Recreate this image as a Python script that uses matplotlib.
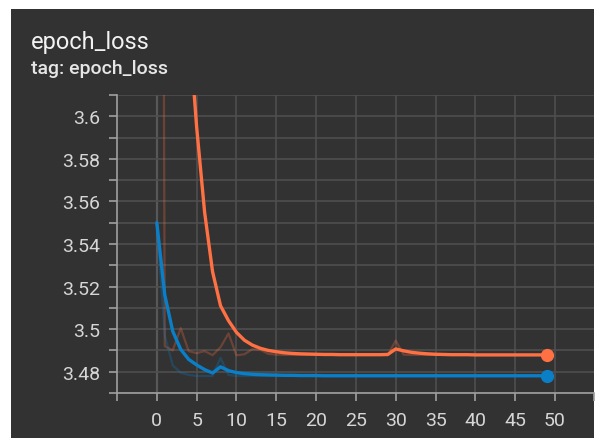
import matplotlib

matplotlib.use("Agg")
import matplotlib.pyplot as plt
import numpy as np
from matplotlib.patches import Rectangle
from matplotlib.ticker import FixedLocator, FuncFormatter, MultipleLocator

plt.rcParams["font.family"] = ["Roboto", "DejaVu Sans"]

# values (TensorBoard scalar card)
steps = list(range(50))

orange_raw = [
    4.600, 3.492, 3.490, 3.5005, 3.4897, 3.4887, 3.4897, 3.4878, 3.4915, 3.4980,
    3.4877, 3.4882, 3.4906, 3.4903, 3.4884, 3.4880, 3.4879, 3.4879, 3.4879, 3.4879,
    3.4879, 3.4879, 3.4879, 3.4879, 3.4879, 3.4879, 3.4879, 3.4879, 3.4879, 3.4878,
    3.4946, 3.4880, 3.4879, 3.4879, 3.4879, 3.4879, 3.4879, 3.4879, 3.4879, 3.4879,
    3.4879, 3.4879, 3.4879, 3.4879, 3.4879, 3.4879, 3.4879, 3.4879, 3.4879, 3.4879,
]
orange_smooth = [
    4.600, 4.000, 3.800, 3.700, 3.645, 3.595, 3.555, 3.527, 3.511, 3.504,
    3.4985, 3.4948, 3.4925, 3.4910, 3.4900, 3.4894, 3.4889, 3.4886, 3.4884, 3.4883,
    3.4882, 3.4881, 3.4881, 3.4880, 3.4880, 3.4880, 3.4880, 3.4880, 3.4880, 3.4881,
    3.4907, 3.4898, 3.4891, 3.4887, 3.4884, 3.4882, 3.4881, 3.4880, 3.4880, 3.4880,
    3.4879, 3.4879, 3.4879, 3.4879, 3.4879, 3.4879, 3.4879, 3.4879, 3.4879, 3.4879,
]
blue_raw = [
    3.5500, 3.4970, 3.4830, 3.4795, 3.4785, 3.4780, 3.4780, 3.4780, 3.4865, 3.4785,
    3.4780, 3.4780, 3.4780, 3.4780, 3.4780, 3.4780, 3.4780, 3.4780, 3.4780, 3.4780,
    3.4780, 3.4780, 3.4780, 3.4780, 3.4780, 3.4780, 3.4780, 3.4780, 3.4780, 3.4780,
    3.4780, 3.4780, 3.4780, 3.4780, 3.4780, 3.4780, 3.4780, 3.4780, 3.4780, 3.4780,
    3.4780, 3.4780, 3.4780, 3.4780, 3.4780, 3.4780, 3.4780, 3.4780, 3.4780, 3.4780,
]
blue_smooth = [
    3.5500, 3.5160, 3.4990, 3.4905, 3.4858, 3.4832, 3.4810, 3.4794, 3.4823, 3.4805,
    3.4796, 3.4791, 3.4788, 3.4786, 3.4785, 3.4784, 3.4783, 3.4783, 3.4782, 3.4782,
    3.4782, 3.4781, 3.4781, 3.4781, 3.4781, 3.4781, 3.4781, 3.4781, 3.4781, 3.4781,
    3.4781, 3.4781, 3.4781, 3.4781, 3.4781, 3.4781, 3.4781, 3.4781, 3.4781, 3.4781,
    3.4781, 3.4781, 3.4781, 3.4781, 3.4781, 3.4781, 3.4781, 3.4781, 3.4781, 3.4781,
]

x_labels = list(range(0, 55, 5))
y_labels = [3.48, 3.50, 3.52, 3.54, 3.56, 3.58, 3.60]

ORANGE = "#ff7043"
BLUE = "#0a7fc7"
CARD = "#323232"
GRID = "#4e4e4e"
AXIS = "#a0a0a0"
TEXT = "#d6d6d6"

W, H = 598, 439
fig = plt.figure(figsize=(W / 100, H / 100), dpi=100)
fig.patch.set_facecolor("white")
fig.patches.append(
    Rectangle((11 / W, 0), 583 / W, 1 - 10 / H, transform=fig.transFigure,
              facecolor=CARD, edgecolor="none", zorder=-10)
)

fig.text(31 / W, 1 - 49.5 / H, "epoch_loss", color="#f2f2f2", fontsize=17,
         va="baseline", ha="left")
fig.text(31 / W, 1 - 73.5 / H, "tag: epoch_loss", color="#e6e6e6", fontsize=14,
         va="baseline", ha="left", fontweight="medium")

ax = fig.add_axes([117 / W, 1 - 394 / H, (594 - 117) / W, (394 - 96) / H])
ax.set_zorder(1)
ax.set_facecolor(CARD)

xmin, xmax = -5.0, 54.9
ymin, ymax = 3.47, 3.61
ax.set_xlim(xmin, xmax)
ax.set_ylim(ymin, ymax)

# grid
ax.xaxis.set_major_locator(FixedLocator(x_labels))
ax.xaxis.set_minor_locator(FixedLocator([xmin, xmax]))
ax.yaxis.set_major_locator(FixedLocator(y_labels))
ax.yaxis.set_minor_locator(MultipleLocator(0.01))
ax.grid(True, which="major", axis="x", color=GRID, linewidth=1.2)
ax.grid(True, which="both", axis="y", color=GRID, linewidth=1.2)
ax.axvline(0, color="#8e8e8e", linewidth=1.5, zorder=1.5)

ax.xaxis.set_major_formatter(FuncFormatter(lambda v, _: f"{v:g}"))
ax.yaxis.set_major_formatter(FuncFormatter(lambda v, _: f"{v:g}"))
ax.xaxis.set_minor_formatter(FuncFormatter(lambda v, _: ""))
ax.yaxis.set_minor_formatter(FuncFormatter(lambda v, _: ""))

for side in ("top", "right"):
    ax.spines[side].set_visible(False)
for side in ("left", "bottom"):
    ax.spines[side].set_color(AXIS)
    ax.spines[side].set_linewidth(1.2)

ax.tick_params(axis="both", which="both", color=AXIS, width=1.2, length=6,
               labelcolor=TEXT, labelsize=14)
ax.tick_params(axis="y", which="both", pad=6)
ax.tick_params(axis="x", which="both", pad=7)

# faded raw series, then smoothed series on top
ax.plot(steps, orange_raw, color=ORANGE, alpha=0.28, linewidth=1.6, zorder=2)
ax.plot(steps, blue_raw, color=BLUE, alpha=0.28, linewidth=1.6, zorder=2)
ax.plot(steps, orange_smooth, color=ORANGE, linewidth=2.4, zorder=3,
        solid_joinstyle="round", solid_capstyle="round")
ax.plot(steps, blue_smooth, color=BLUE, linewidth=2.4, zorder=3,
        solid_joinstyle="round", solid_capstyle="round")
ax.plot(steps[-1], orange_smooth[-1], "o", color=ORANGE, markersize=8.5, zorder=4)
ax.plot(steps[-1], blue_smooth[-1], "o", color=BLUE, markersize=8.5, zorder=4)

fig.savefig("out.png", dpi=100, facecolor=fig.get_facecolor())
